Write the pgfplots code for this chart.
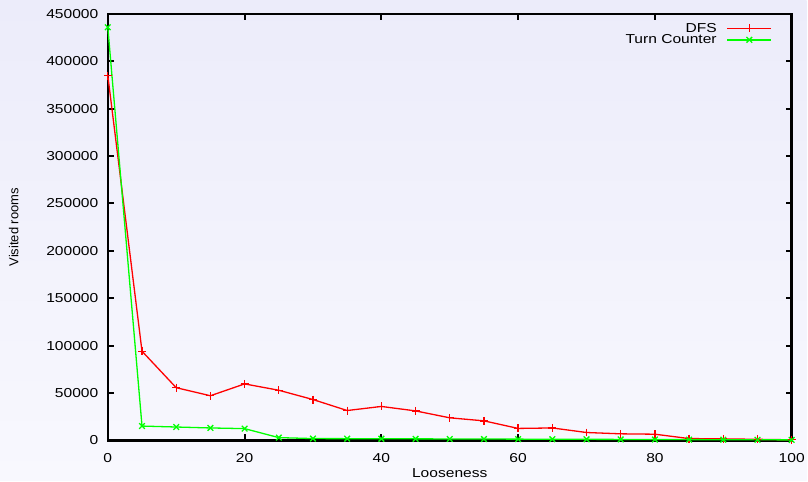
\documentclass[border=0pt]{standalone}
\usepackage{pgfplots}
\pgfplotsset{compat=1.18}
\usepackage{fontspec}
\setmainfont{Liberation Sans}[FakeStretch=1.2]
\newfontfamily\plainfont{Liberation Sans}
\definecolor{bgtop}{RGB}{236,236,250}
\definecolor{bgbot}{RGB}{248,248,254}
\definecolor{gpred}{RGB}{255,0,0}
\definecolor{gpgreen}{RGB}{0,255,0}
\begin{document}
\begin{tikzpicture}[x=1pt,y=1pt]
\shade[top color=bgtop, bottom color=bgbot] (0,0) rectangle (808,481);
\begin{axis}[
  at={(108pt,40pt)}, anchor=south west,
  scale only axis, width=685pt, height=427pt,
  xmin=0, xmax=100, ymin=0, ymax=450000,
  xtick={0,20,...,100}, ytick={0,50000,...,450000},
  scaled y ticks=false,
  /pgf/number format/assume math mode=true,
  yticklabel style={/pgf/number format/fixed, /pgf/number format/1000 sep={}},
  tick align=inside, major tick length=6pt,
  tick style={line width=2pt, black},
  axis line style={line width=2.5pt},
  font=\fontsize{13}{15}\selectfont,
  xlabel={Looseness}, ylabel={\plainfont Visited rooms},
  xlabel style={yshift=1pt},
  ylabel style={yshift=21pt},
  xticklabel style={yshift=-10pt},
  yticklabel style={xshift=-6pt},
  clip=false,
  legend plot pos=right,
  legend cell align=right,
  legend style={draw=none, fill=none, line width=1.3pt, at={(0.972,0.985)}, anchor=north east,
    row sep=-3pt, inner sep=0pt, font=\fontsize{13}{15}\selectfont,
    /tikz/every odd column/.append style={column sep=8pt}},
  legend image code/.code={\draw[mark repeat=2,mark phase=2,line width=1.3pt,#1] plot coordinates {(0pt,0pt) (22pt,0pt) (44pt,0pt)};},
]
\addplot[color=gpred, draw=gpred, line width=1.3pt, mark=+, mark size=4pt, mark options={line width=1.3pt, draw=gpred}] coordinates {
(0,385000) (5,94000) (10,55500) (15,47000) (20,59500) (25,52800) (30,43000) (35,31400)
(40,35700) (45,31000) (50,23700) (55,20500) (60,12500) (65,13000) (70,8200) (75,6800)
(80,6400) (85,1800) (90,1500) (95,1000) (100,500)};
\addlegendentry{DFS}
\addplot[color=gpgreen, draw=gpgreen, line width=1.3pt, mark=x, mark size=4pt, mark options={line width=1.3pt, draw=gpgreen}] coordinates {
(0,436000) (5,15000) (10,14000) (15,13000) (20,12300) (25,2800) (30,1800) (35,1700)
(40,1600) (45,1500) (50,1400) (55,1300) (60,1200) (65,1100) (70,1000) (75,900)
(80,800) (85,700) (90,600) (95,500) (100,400)};
\addlegendentry{Turn Counter}
\end{axis}
\end{tikzpicture}
\end{document}
